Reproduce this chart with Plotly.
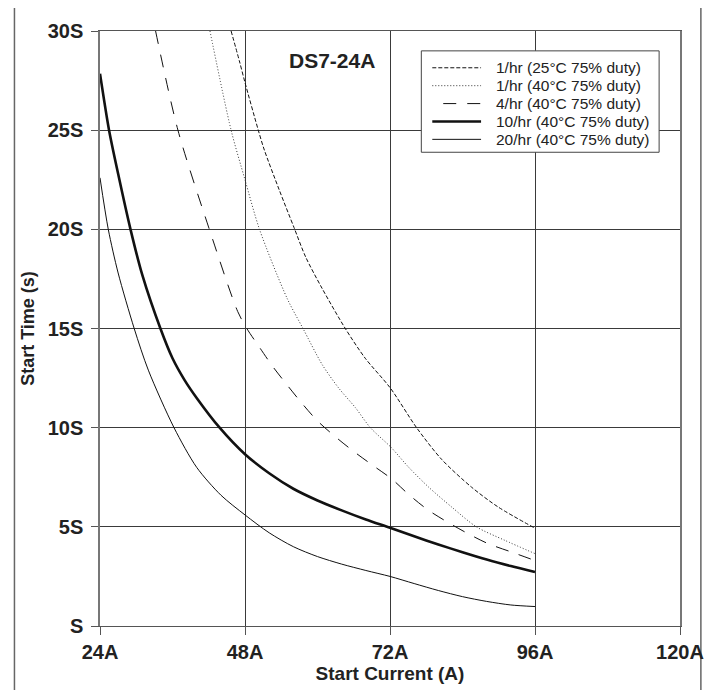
import plotly.graph_objects as go

# ---- data (Start Current in A, Start Time in s) ----
x_1hr_25 = [45.7, 47.06, 48, 50.2, 51.2, 53.65, 56.1, 58.05, 60.8, 64.6, 67.9, 72.05, 76.4, 80.55, 85.5, 89.9, 96]
t_1hr_25 = [30, 28.5, 27.4, 25, 24.0, 22.0, 20.1, 18.6, 17.0, 15, 13.5, 12.0, 10.0, 8.4, 7.0, 6.0, 4.93]

x_1hr_40 = [42.2, 45.7, 48, 50.4, 55, 57.6, 60.8, 63.5, 66.3, 68.75, 72.2, 75.1, 78.4, 82.2, 86.3, 91.0, 96]
t_1hr_40 = [30, 25, 22.5, 20, 16.5, 15, 13.17, 12.0, 11.0, 10.0, 9.0, 8.0, 7.0, 6.0, 5.0, 4.32, 3.65]

x_4hr = [33.2, 36.9, 42.1, 46.8, 48.3, 50.4, 52.55, 55, 57.5, 60, 63, 66, 69.1, 72.3, 75.1, 78.25, 81.5, 84.95, 88.25, 92.1, 96]
t_4hr = [30, 25, 20, 15.85, 15.0, 14.05, 13.1, 12.14, 11.2, 10.34, 9.53, 8.8, 8.11, 7.41, 6.63, 5.86, 5.24, 4.65, 4.15, 3.73, 3.3]

x_10hr = [24, 25.5, 27, 29.05, 31, 34, 36, 38, 40, 43.8, 48, 52, 56, 60, 64, 68, 72, 76, 80, 84, 88, 92, 96]
t_10hr = [27.85, 25.0, 22.8, 20.0, 17.7, 15.0, 13.5, 12.4, 11.5, 10.0, 8.66, 7.70, 6.92, 6.33, 5.83, 5.37, 4.95, 4.52, 4.11, 3.72, 3.35, 3.02, 2.72]

x_20hr = [24, 25.37, 27, 29.66, 32, 36.25, 40, 44, 48, 52, 56, 60, 64, 68, 72, 76, 80, 84, 88, 92, 96]
t_20hr = [22.6, 20.0, 17.8, 15.0, 12.9, 10.0, 8.0, 6.6, 5.6, 4.7, 4.0, 3.5, 3.12, 2.8, 2.5, 2.14, 1.79, 1.48, 1.24, 1.06, 0.98]

x_tickvals = [24, 48, 72, 96, 120]
x_ticktext = ["24A", "48A", "72A", "96A", "120A"]
y_tickvals = [0, 5, 10, 15, 20, 25, 30]
y_ticktext = ["S", "5S", "10S", "15S", "20S", "25S", "30S"]

series_names = ["1/hr (25°C 75% duty)", "1/hr (40°C 75% duty)", "4/hr (40°C 75% duty)",
                "10/hr (40°C 75% duty)", "20/hr (40°C 75% duty)"]
series_x = [x_1hr_25, x_1hr_40, x_4hr, x_10hr, x_20hr]
series_t = [t_1hr_25, t_1hr_40, t_4hr, t_10hr, t_20hr]

# styles
widths = [1.0, 1.0, 1.0, 2.6, 1.0]
dashes = ["4px,2px", "1px,2px", "13px,11px", "solid", "solid"]
colors = ["#111111", "#333333", "#111111", "#111111", "#111111"]

FONT = "Liberation Sans, Arial, Helvetica, sans-serif"
TXT = "#222222"

fig = go.Figure()
for name, xs, ys, w, dash, c in zip(series_names, series_x, series_t, widths, dashes, colors):
    fig.add_trace(go.Scatter(
        x=xs, y=ys, name=name, mode="lines", showlegend=False,
        line=dict(color=c, width=w, dash=dash, shape="spline", smoothing=0.8),
        hoverinfo="skip",
    ))

fig.update_layout(
    width=708, height=682,
    margin=dict(l=92, r=33, t=23, b=60.5),
    paper_bgcolor="white", plot_bgcolor="white",
    font=dict(family=FONT, color=TXT),
    showlegend=False,
    xaxis=dict(
        range=[24, 120], tickvals=x_tickvals, ticktext=x_ticktext,
        showgrid=True, gridcolor="#3a3a3a", gridwidth=1,
        showline=True, linecolor="#555555", linewidth=1, mirror=True,
        ticks="outside", ticklen=8, tickcolor="#555555",
        tickfont=dict(family=FONT, size=20, color=TXT, weight="bold"),
        title=dict(text="Start Current (A)", standoff=2,
                   font=dict(family=FONT, size=19, color=TXT, weight="bold")),
        zeroline=False,
    ),
    yaxis=dict(
        range=[0, 30], tickvals=y_tickvals, ticktext=y_ticktext,
        showgrid=True, gridcolor="#3a3a3a", gridwidth=1,
        showline=True, linecolor="#777777", linewidth=1.5, mirror=True,
        ticks="outside", ticklen=7, tickcolor="#555555", ticklabelstandoff=4,
        tickfont=dict(family=FONT, size=20, color=TXT, weight="bold"),
        title=dict(text="Start Time (s)", standoff=8,
                   font=dict(family=FONT, size=18, color=TXT, weight="bold")),
        zeroline=False,
    ),
)

fig.add_annotation(
    x=62.4, y=28.5, xref="x", yref="y", text="DS7-24A", showarrow=False,
    font=dict(family=FONT, size=21, color=TXT, weight="bold"),
)

# ---- legend box (drawn in paper coordinates) ----
fig.add_shape(type="rect", xref="paper", yref="paper",
              x0=0.554, x1=0.964, y0=0.7962, y1=0.9666,
              line=dict(color="#444444", width=1), fillcolor="white", layer="above")
row_y = [0.9382, 0.9081, 0.878, 0.8479, 0.8179]
line_x0 = [0.5729, 0.5729, 0.5918, 0.5729, 0.5729]
for i, name in enumerate(series_names):
    fig.add_shape(type="line", xref="paper", yref="paper",
                  x0=line_x0[i], x1=0.657, y0=row_y[i], y1=row_y[i],
                  line=dict(color=colors[i], width=widths[i], dash=dashes[i]), layer="above")
    fig.add_annotation(x=0.6792, y=row_y[i], xref="paper", yref="paper",
                       xanchor="left", yanchor="middle", text=name, showarrow=False,
                       font=dict(family=FONT, size=15.5, color=TXT))

# outer frame
fig.add_shape(type="rect", xref="paper", yref="paper",
              x0=-0.1475, x1=1.036, y0=-0.2, y1=1.0401,
              line=dict(color="#666666", width=1.5), layer="below")

fig.write_html("out.html")
